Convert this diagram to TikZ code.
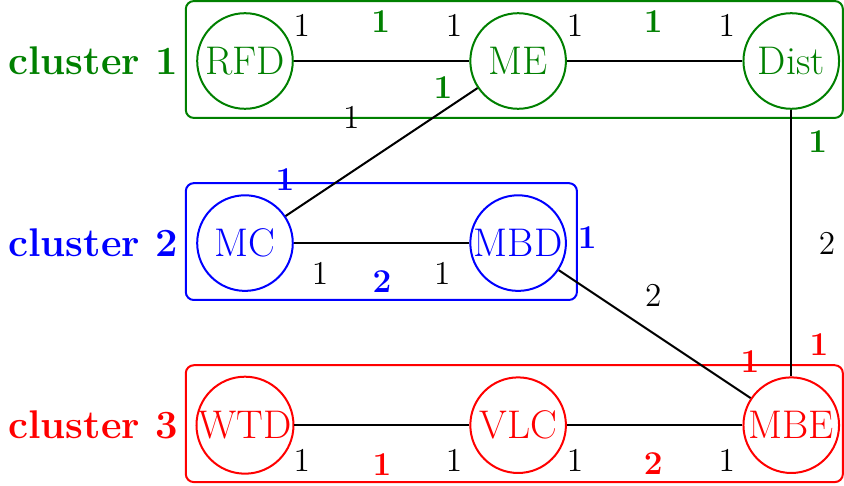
\documentclass[tikz,border=0pt]{standalone}
\usepackage{tikz}
\usetikzlibrary{calc}
\colorlet{cOne}{green!50!black}
\colorlet{cTwo}{blue}
\colorlet{cThree}{red}

\begin{document}
\begin{tikzpicture}[
  unit/.style={circle, draw=#1, text=#1, line width=0.75pt, minimum size=1.26cm, inner sep=0pt, font=\fontsize{15}{18}\selectfont},
  link/.style={black, line width=0.75pt},
  grp/.style={draw=#1, line width=0.75pt, rounded corners=3pt},
  grplabel/.style={anchor=east, inner sep=0pt, text=#1, font=\fontsize{15}{18}\selectfont\bfseries},
  num/.style={inner sep=0pt, font=\fontsize{12.5}{15}\selectfont},
  wt/.style={inner sep=0pt, text=#1, font=\fontsize{12.5}{15}\selectfont\bfseries}]
  \useasboundingbox (-3.229,0.804) rectangle (7.895,-5.60);
  % ------- cluster boxes -------
  \draw[grp=cOne] (-0.78,0.79) rectangle (7.88,-0.75);
  \draw[grp=cTwo] (-0.78,-1.61) rectangle (4.375,-3.15);
  \draw[grp=cThree] (-0.78,-4.01) rectangle (7.88,-5.55);
  \node[grplabel=cOne] (lab1) at (-0.88,0) {cluster 1};
  \node[grplabel=cTwo] (lab2) at (-0.88,-2.4) {cluster 2};
  \node[grplabel=cThree] (lab3) at (-0.88,-4.8) {cluster 3};
  % ------- units -------
  \node[unit=cOne] (RFD) at (0,0) {RFD};
  \node[unit=cOne] (ME) at (3.6,0) {ME};
  \node[unit=cOne] (Dist) at (7.2,0) {Dist};
  \node[unit=cTwo] (MC) at (0,-2.4) {MC};
  \node[unit=cTwo] (MBD) at (3.6,-2.4) {MBD};
  \node[unit=cThree] (WTD) at (0,-4.8) {WTD};
  \node[unit=cThree] (VLC) at (3.6,-4.8) {VLC};
  \node[unit=cThree] (MBE) at (7.2,-4.8) {MBE};
  % ------- links -------
  \draw[link] (RFD) -- (ME);
  \draw[link] (ME) -- (Dist);
  \draw[link] (MC) -- (MBD);
  \draw[link] (WTD) -- (VLC);
  \draw[link] (VLC) -- (MBE);
  \draw[link] (ME) -- (MC);
  \draw[link] (MBD) -- (MBE);
  \draw[link] (Dist) -- (MBE);
  % ------- plain numbers -------
  \foreach \p/\t [count=\k] in {(0.75,0.47)/1,(2.755,0.47)/1,(4.35,0.47)/1,(6.35,0.47)/1,
      (1.40,-0.75)/1,(7.67,-2.40)/2,(5.38,-3.084)/2,(0.99,-2.794)/1,(2.60,-2.794)/1,
      (0.75,-5.26)/1,(2.755,-5.26)/1,(4.35,-5.26)/1,(6.35,-5.26)/1}
    \node[num] (m\k) at \p {\t};
  % ------- bold numbers -------
  \foreach \p/\t/\c [count=\k] in {(1.79,0.52)/1/cOne,(5.38,0.52)/1/cOne,(2.61,-0.356)/1/cOne,
      (7.55,-1.067)/1/cOne,(0.527,-1.568)/1/cTwo,(4.51,-2.333)/1/cTwo,(1.806,-2.913)/2/cTwo,
      (7.565,-3.743)/1/cThree,(6.656,-3.967)/1/cThree,(1.806,-5.325)/1/cThree,(5.38,-5.30)/2/cThree}
    \node[wt=\c] (w\k) at \p {\t};
\end{tikzpicture}
\end{document}
